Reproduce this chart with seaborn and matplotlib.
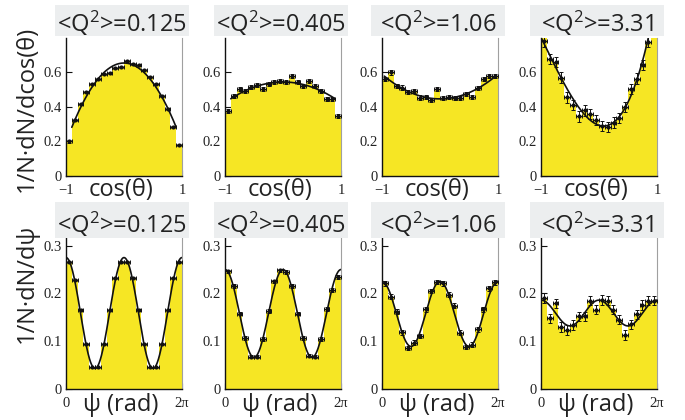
import numpy as np
import pandas as pd
import matplotlib
matplotlib.use("Agg")
import matplotlib.pyplot as plt
import seaborn as sns
from matplotlib.patches import Rectangle

# ---------------- data ----------------
q2_labels = ["0.125", "0.405", "1.06", "3.31"]

# top row: 1/N dN/dcos(theta), 20 bins in cos(theta) from -1 to 1
cos_vals_q0125 = [0.200, 0.324, 0.420, 0.487, 0.532, 0.561, 0.593, 0.598, 0.624, 0.634,
                  0.667, 0.651, 0.645, 0.616, 0.575, 0.534, 0.464, 0.386, 0.283, 0.181]
cos_vals_q0405 = [0.376, 0.465, 0.505, 0.495, 0.515, 0.529, 0.505, 0.533, 0.545, 0.549,
                  0.545, 0.578, 0.545, 0.519, 0.552, 0.521, 0.495, 0.446, 0.446, 0.350]
cos_vals_q106 = [0.560, 0.600, 0.521, 0.513, 0.485, 0.492, 0.455, 0.458, 0.439, 0.503,
                 0.450, 0.460, 0.450, 0.452, 0.473, 0.460, 0.512, 0.562, 0.580, 0.580]
cos_vals_q331 = [0.780, 0.678, 0.660, 0.570, 0.456, 0.410, 0.345, 0.380, 0.360, 0.325,
                 0.290, 0.285, 0.310, 0.335, 0.400, 0.505, 0.565, 0.645, 0.776, 0.900]
cos_err = [0.006, 0.011, 0.012, 0.030]
cos_hist_q331 = [0.850, 0.678, 0.660, 0.570, 0.456, 0.410, 0.345, 0.380, 0.360, 0.325,
                 0.290, 0.285, 0.310, 0.335, 0.400, 0.505, 0.565, 0.645, 0.776, 0.900]
# fit: a + b x + c x^2 + d x^3, drawn over [lo, hi]
cos_fit_coef = [[0.655, 0.000, -0.460, 0.000],
                [0.545, 0.000, -0.120, 0.000],
                [0.447, 0.000, 0.143, 0.000],
                [0.294, -0.105, 0.631, 0.227]]
cos_fit_range = [(-0.9, 0.9), (-0.9, 0.9), (-0.96, 0.97), (-1.0, 1.0)]

# bottom row: 1/N dN/dpsi, 20 bins in psi from 0 to 2pi
psi_vals_q0125 = [0.266, 0.228, 0.165, 0.094, 0.045, 0.045, 0.094, 0.165, 0.233, 0.266,
                  0.266, 0.233, 0.165, 0.094, 0.045, 0.045, 0.094, 0.165, 0.233, 0.266]
psi_vals_q0405 = [0.246, 0.215, 0.158, 0.106, 0.068, 0.068, 0.104, 0.164, 0.225, 0.248,
                  0.245, 0.216, 0.158, 0.106, 0.070, 0.068, 0.104, 0.168, 0.208, 0.234]
psi_vals_q106 = [0.221, 0.193, 0.162, 0.119, 0.086, 0.097, 0.111, 0.167, 0.205, 0.224,
                 0.221, 0.197, 0.174, 0.118, 0.088, 0.093, 0.125, 0.167, 0.211, 0.223]
psi_vals_q331 = [0.190, 0.148, 0.179, 0.130, 0.124, 0.134, 0.152, 0.152, 0.185, 0.166,
                 0.186, 0.185, 0.166, 0.145, 0.113, 0.135, 0.156, 0.176, 0.185, 0.185]
psi_err = [0.002, 0.004, 0.005, 0.010]
# fit: a + b cos(2 psi)
psi_fit_coef = [[0.159, 0.116], [0.158, 0.092], [0.157, 0.068], [0.159, 0.027]]

cos_vals = [cos_vals_q0125, cos_vals_q0405, cos_vals_q106, cos_vals_q331]
cos_hist = [cos_vals_q0125, cos_vals_q0405, cos_vals_q106, cos_hist_q331]
psi_vals = [psi_vals_q0125, psi_vals_q0405, psi_vals_q106, psi_vals_q331]

# ---------------- style ----------------
sns.set_theme(style="ticks")
plt.rcParams["font.family"] = ["Open Sans", "DejaVu Sans"]
plt.rcParams["mathtext.fontset"] = "custom"
plt.rcParams["mathtext.rm"] = "Open Sans"
plt.rcParams["mathtext.it"] = "Open Sans"
YELLOW = "#f6e624"
INK = "#111111"
SERIF = ["Liberation Serif", "DejaVu Serif"]

W, H = 685, 420
fig = plt.figure(figsize=(W / 100, H / 100), dpi=100)

lefts = [66, 225, 382, 541]
axw = 116
rows = [(38, 176), (238, 389)]
box_rows = [(5, 36), (202, 238)]
NBINS = 20
EB = dict(fmt="o", ms=2.0, color=INK, elinewidth=0.7, capsize=1.6, capthick=0.7, zorder=5)


def px_axes(x0, y0, y1):
    return fig.add_axes([x0 / W, (H - y1) / H, axw / W, (y1 - y0) / H])


def style_axes(ax):
    ax.spines["top"].set_visible(False)
    ax.spines["right"].set_color("#a0a0a0")
    ax.spines["right"].set_linewidth(0.8)
    for s in ("left", "bottom"):
        ax.spines[s].set_color(INK)
        ax.spines[s].set_linewidth(1.0)
    ax.tick_params(direction="in", length=4, width=0.8, color=INK, labelsize=10.5,
                   labelcolor="#222222")
    ax.tick_params(axis="x", pad=6)
    ax.tick_params(axis="y", pad=3)
    for lab in ax.get_xticklabels() + ax.get_yticklabels():
        lab.set_fontfamily(SERIF)
    ax.set_xlabel("")
    ax.set_ylabel("")


def title_box(x0, row):
    b0, b1 = box_rows[row]
    cx = x0 + axw / 2 - 2
    bw = 134
    fig.patches.append(Rectangle(((cx - bw / 2) / W, (H - b1) / H), bw / W, (b1 - b0) / H,
                                 transform=fig.transFigure, facecolor="#eceeef",
                                 edgecolor="none", zorder=0))


cos_centers = -1 + (np.arange(NBINS) + 0.5) * 2 / NBINS
psi_centers = (np.arange(NBINS) + 0.5) * 2 * np.pi / NBINS

for i in range(4):
    # ---- top row ----
    x0 = lefts[i]
    title_box(x0, 0)
    ax = px_axes(x0, *rows[0])
    dtop = pd.DataFrame({"x": cos_centers, "w": cos_hist[i]})
    sns.histplot(data=dtop, x="x", weights="w", bins=NBINS, binrange=(-1, 1),
                 element="step", fill=True, color=YELLOW, alpha=1, linewidth=0,
                 edgecolor=YELLOW, ax=ax)
    lo, hi = cos_fit_range[i]
    xs = np.linspace(lo, hi, 300)
    a, b, c, d = cos_fit_coef[i]
    sns.lineplot(x=xs, y=a + b * xs + c * xs ** 2 + d * xs ** 3, color=INK, linewidth=1.2,
                 ax=ax)
    ax.errorbar(cos_centers, cos_vals[i], xerr=0.05, yerr=cos_err[i], **EB)
    ax.set_xlim(-1, 1)
    ax.set_ylim(0, 0.8)
    ax.set_xticks([-1, -0.5, 0, 0.5, 1])
    ax.set_xticklabels(["\u22121", "", "", "", "1"])
    ax.set_yticks([0, 0.2, 0.4, 0.6])
    ax.set_yticklabels(["0", "0.2", "0.4", "0.6"])
    style_axes(ax)
    ax.text(0.47, -0.105, "cos(\u03b8)", transform=ax.transAxes, ha="center", va="center",
            fontsize=17, color="#222222")
    fig.text((x0 + axw / 2 - 2) / W, (H - 32) / H, "<Q$^2$>=" + q2_labels[i],
             ha="center", va="baseline", fontsize=17, color="#222222")

    # ---- bottom row ----
    title_box(x0, 1)
    ax2 = px_axes(x0, *rows[1])
    dbot = pd.DataFrame({"x": psi_centers, "w": psi_vals[i]})
    sns.histplot(data=dbot, x="x", weights="w", bins=NBINS, binrange=(0, 2 * np.pi),
                 element="step", fill=True, color=YELLOW, alpha=1, linewidth=0,
                 edgecolor=YELLOW, ax=ax2)
    ps = np.linspace(0, 2 * np.pi, 400)
    pa, pb = psi_fit_coef[i]
    sns.lineplot(x=ps, y=pa + pb * np.cos(2 * ps), color=INK, linewidth=1.2, ax=ax2)
    ax2.errorbar(psi_centers, psi_vals[i], xerr=np.pi / 20, yerr=psi_err[i], **EB)
    ax2.set_xlim(0, 2 * np.pi)
    ax2.set_ylim(0, 0.316)
    ax2.set_xticks([0, np.pi / 2, np.pi, 1.5 * np.pi, 2 * np.pi])
    ax2.set_xticklabels(["0", "", "", "", "2\u03c0"])
    ax2.set_yticks([0, 0.1, 0.2, 0.3])
    ax2.set_yticklabels(["0", "0.1", "0.2", "0.3"])
    style_axes(ax2)
    ax2.text(0.47, -0.105, "\u03c8 (rad)", transform=ax2.transAxes, ha="center",
             va="center", fontsize=17, color="#222222")
    fig.text((x0 + axw / 2 - 2) / W, (H - 233) / H, "<Q$^2$>=" + q2_labels[i],
             ha="center", va="baseline", fontsize=17, color="#222222")

fig.text(27 / W, (H - 109) / H, "1/N\u00b7dN/dcos(\u03b8)", rotation=90, ha="center",
         va="center", fontsize=17, color="#222222")
fig.text(27 / W, (H - 283) / H, "1/N\u00b7dN/d\u03c8", rotation=90, ha="center",
         va="center", fontsize=17, color="#222222")

fig.savefig("out.png", dpi=100, facecolor="white")
